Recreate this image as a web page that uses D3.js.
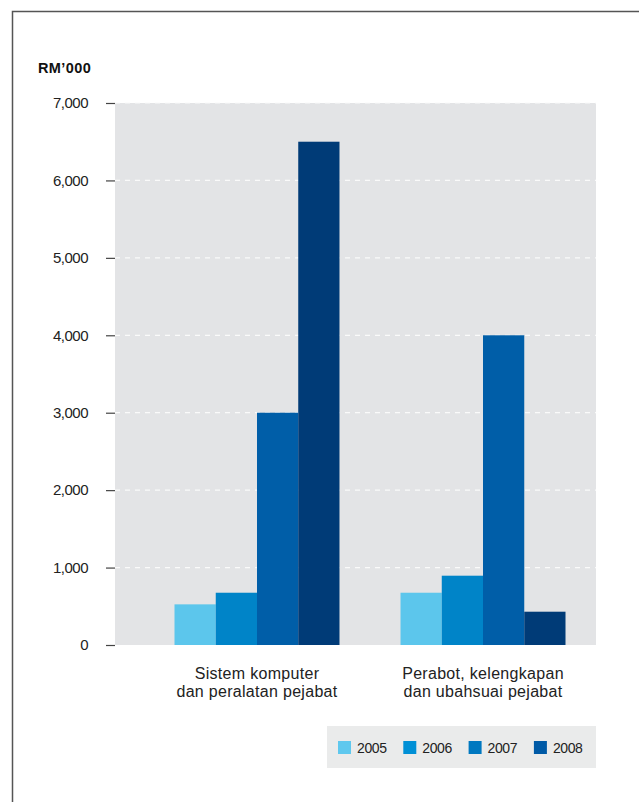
<!DOCTYPE html>
<html>
<head>
<meta charset="utf-8">
<script src="https://cdn.jsdelivr.net/npm/d3@7"></script>
<style>
  html, body { margin: 0; padding: 0; background: #fff; }
  svg { display: block; font-family: "Liberation Sans", Arial, Helvetica, sans-serif; }
</style>
</head>
<body>
<svg id="chart" width="639" height="802"></svg>
<script>
// Perbelanjaan aset mengikut kategori (RM'000)
const categories = [
  ["Sistem komputer", "dan peralatan pejabat"],
  ["Perabot, kelengkapan", "dan ubahsuai pejabat"]
];
const years = ["2005", "2006", "2007", "2008"];
const values2005 = [525, 675];
const values2006 = [675, 895];
const values2007 = [3000, 4000];
const values2008 = [6500, 430];
const yTicks = [0, 1000, 2000, 3000, 4000, 5000, 6000, 7000];
const unitLabel = "RM’000";

const barColors = ["#5cc6ec", "#0084c8", "#005ea8", "#003b77"];
const legendColors = ["#5fc8ee", "#0090d6", "#0078c0", "#005aa6"];

const series = [values2005, values2006, values2007, values2008];
const keys = categories.map(c => c.join(" "));

const svg = d3.select("#chart");

// Frame
svg.append("path")
  .attr("d", "M12.5,802 L12.5,11.5 L639,11.5")
  .attr("fill", "none")
  .attr("stroke", "#555")
  .attr("stroke-width", 1.5);

const plot = { left: 115, right: 596, top: 103, bottom: 645 };

const y = d3.scaleLinear().domain([0, 7000]).range([plot.bottom, plot.top]);
const x0 = d3.scaleBand().domain(keys).range([174.5, 565.5]).paddingInner(0.27).paddingOuter(0);
const x1 = d3.scaleBand().domain(years).range([0, x0.bandwidth()]).padding(0);

// Plot background
svg.append("rect")
  .attr("x", plot.left).attr("y", plot.top)
  .attr("width", plot.right - plot.left).attr("height", plot.bottom - plot.top)
  .attr("fill", "#e3e4e6");

// Gridlines
svg.append("g").selectAll("line")
  .data(yTicks.filter(d => d > 0))
  .join("line")
  .attr("x1", plot.left).attr("x2", plot.right)
  .attr("y1", d => y(d)).attr("y2", d => y(d))
  .attr("stroke", "#fafafa").attr("stroke-width", 1.2)
  .attr("stroke-dasharray", "5,5");

// Y axis
const yAxis = d3.axisLeft(y)
  .tickValues(yTicks)
  .tickFormat(d3.format(","))
  .tickSize(9)
  .tickPadding(18);
const yG = svg.append("g").attr("transform", `translate(${plot.left},0)`).call(yAxis);
yG.select(".domain").remove();
yG.selectAll(".tick line").attr("stroke", "#444").attr("stroke-width", 1.2);
yG.selectAll(".tick text")
  .attr("fill", "#222")
  .style("font-size", "15px")
  .style("letter-spacing", "-0.5px")
  .style("font-family", "'Liberation Sans', Arial, sans-serif");

// Unit label
svg.append("text")
  .attr("x", 38).attr("y", 72.5)
  .attr("fill", "#111")
  .style("font-size", "14.5px")
  .style("font-weight", "bold")
  .style("letter-spacing", "0.4px")
  .text(unitLabel);

// Bars
const groups = svg.append("g").selectAll("g")
  .data(keys)
  .join("g")
  .attr("transform", d => `translate(${x0(d)},0)`);

groups.selectAll("rect")
  .data((k, i) => years.map((yr, j) => ({ yr, j, v: series[j][i] })))
  .join("rect")
  .attr("x", d => x1(d.yr))
  .attr("y", d => y(d.v))
  .attr("width", x1.bandwidth())
  .attr("height", d => y(0) - y(d.v))
  .attr("fill", d => barColors[d.j]);

// Category labels
const xLab = svg.append("g").selectAll("text")
  .data(categories)
  .join("text")
  .attr("x", (d, i) => x0(keys[i]) + x0.bandwidth() / 2)
  .attr("y", 679)
  .attr("text-anchor", "middle")
  .attr("fill", "#222")
  .style("font-size", "16px")
  .style("letter-spacing", "0.3px");
xLab.selectAll("tspan")
  .data(d => d)
  .join("tspan")
  .attr("x", function () { return this.parentNode.getAttribute("x"); })
  .attr("dy", (d, i) => i === 0 ? 0 : 18)
  .text(d => d);

// Legend
const legend = svg.append("g");
legend.append("rect")
  .attr("x", 327).attr("y", 726)
  .attr("width", 269).attr("height", 42)
  .attr("fill", "#eaebeb");
const li = legend.selectAll("g")
  .data(years)
  .join("g")
  .attr("transform", (d, i) => `translate(${338 + i * 65.3},741)`);
li.append("rect")
  .attr("width", 13).attr("height", 13)
  .attr("fill", (d, i) => legendColors[i]);
li.append("text")
  .attr("x", 19).attr("y", 12)
  .attr("fill", "#222")
  .style("font-size", "14px")
  .style("letter-spacing", "-0.4px")
  .text(d => d);
</script>
</body>
</html>
